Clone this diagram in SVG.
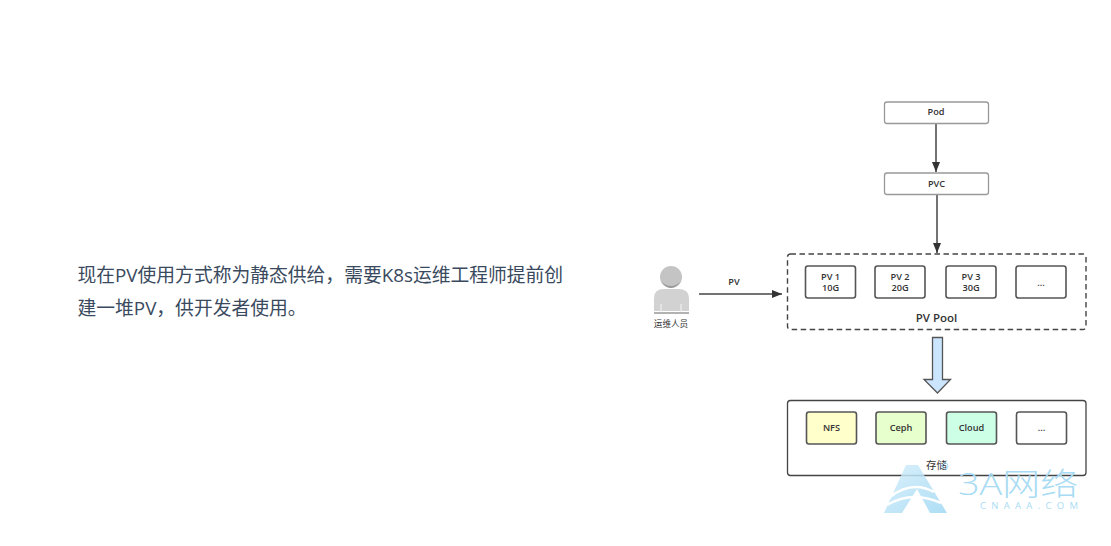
<svg xmlns="http://www.w3.org/2000/svg" width="1111" height="546" viewBox="0 0 1111 546">
<style>
text{font-family:"Open Sans","Noto Sans","Noto Sans CJK SC",sans-serif;text-anchor:middle;fill:#333}
.cjk{font-family:"Open Sans","Noto Sans CJK SC",sans-serif}
.b{fill:#fff;stroke:#555;stroke-width:1.6}
.t{fill:#fff;stroke:#999;stroke-width:1.300}
.l{font-size:9.200px;font-weight:600}
.c{fill:none;stroke:#444;stroke-width:1.500}
.body{font-size:18.800px;text-anchor:start;fill:#3a4a5e}
.wm{fill:#a9dcf4}
</style>
<defs>
<marker id="a" markerWidth="11" markerHeight="9" refX="10" refY="4" orient="auto" markerUnits="userSpaceOnUse"><path d="M0 0L10 4L0 8Z" fill="#333"/></marker>
<linearGradient id="g" x1="0" y1="0" x2="1" y2="1"><stop offset="0" stop-color="#d5eefa"/><stop offset="1" stop-color="#9fd8f3"/></linearGradient>
</defs>
<rect width="1111" height="546" fill="#fff"/>
<g id="intro">
<text class="body cjk" x="77.500" y="282">现在PV使用方式称为静态供给，需要K8s运维工程师提前创</text>
<text class="body cjk" x="77.500" y="315">建一堆PV，供开发者使用。</text>
</g>
<g id="connectors">
<path class="c" d="M936 124V172" marker-end="url(#a)"/>
<path class="c" d="M937 195V253" marker-end="url(#a)"/>
<path class="c" d="M699 294H782" marker-end="url(#a)"/>
<path d="M932.500 337.500H942.500V379.500H950.500L937.500 393L924 379.500H932.500Z" fill="#cce5ff" stroke="#555" stroke-width="1.300"/>
<text class="l" x="734" y="285">PV</text>
</g>
<g id="pod"><rect class="t" x="884.500" y="102" width="104" height="21.500" rx="2.500"/><text class="l" x="936" y="115">Pod</text></g>
<g id="pvc"><rect class="t" x="884.500" y="173" width="104" height="21.500" rx="2.500"/><text class="l" x="936.500" y="186.500">PVC</text></g>
<g id="ops">
<circle cx="671" cy="277" r="11" fill="#c4c4c4"/>
<path d="M660.500 281Q671 295 681.500 281Q671 291 660.500 281Z" fill="#999"/>
<path d="M654 311V298Q654 289 664 289H678Q689 289 689 298V311Z" fill="#d2d2d2"/>
<path d="M654 313H689" stroke="#999" stroke-width="1.500"/>
<path d="M661 304V312M681 304V312" stroke="#eee" stroke-width="1.200"/>
<text x="671" y="327" style="font-size:8.600px">运维人员</text>
</g>
<g id="pool">
<rect x="787.500" y="254" width="298.500" height="75.500" rx="3" fill="#fff" stroke="#444" stroke-width="1.400" stroke-dasharray="5.500 3.500"/>
<text x="936.500" y="322" style="font-size:11.500px;font-weight:600">PV Pool</text>
</g>
<g id="pv1"><rect class="b" x="805.500" y="266" width="50" height="32" rx="2.500"/><text class="l" x="830.500" y="280">PV 1</text><text class="l" x="830.500" y="291">10G</text></g>
<g id="pv2"><rect class="b" x="875" y="266" width="50" height="32" rx="2.500"/><text class="l" x="900" y="280">PV 2</text><text class="l" x="900" y="291">20G</text></g>
<g id="pv3"><rect class="b" x="946" y="266" width="50" height="32" rx="2.500"/><text class="l" x="971" y="280">PV 3</text><text class="l" x="971" y="291">30G</text></g>
<g id="pvm"><rect class="b" x="1016" y="266" width="50" height="32" rx="2.500"/><text class="l" x="1041" y="286">...</text></g>
<g id="storage">
<rect x="787.500" y="400.500" width="298.500" height="75" rx="3" fill="#fff" stroke="#444" stroke-width="1.300"/>
</g>
<g id="nfs"><rect class="b" x="806.500" y="412" width="50" height="32" rx="2.500" style="fill:#ffffcc"/><text class="l" x="831.500" y="431">NFS</text></g>
<g id="ceph"><rect class="b" x="876" y="412" width="50" height="32" rx="2.500" style="fill:#e6ffcc"/><text class="l" x="901" y="431">Ceph</text></g>
<g id="cloud"><rect class="b" x="946.500" y="412" width="50" height="32" rx="2.500" style="fill:#ccffe6"/><text class="l" x="971.500" y="431">Cloud</text></g>
<g id="stm"><rect class="b" x="1016.500" y="412" width="50" height="32" rx="2.500"/><text class="l" x="1041.500" y="431">...</text></g>
<text x="936.500" y="469" style="font-size:10.500px" class="cjk">存储</text>
<g id="watermark">
<path d="M884 513L906 465H918L947 513H930L917 489L902 513Z" fill="url(#g)" opacity=".85"/>
<path d="M890 497Q912 480 934 492M887 505Q912 490 941 503" fill="none" stroke="#fff" stroke-width="2.500"/>
<circle cx="945" cy="466" r="3" fill="none" stroke="#a9dcf4"/>
<text x="1018" y="495" textLength="120" lengthAdjust="spacingAndGlyphs" style="font-size:31px;font-weight:300;fill:#a9dcf4">3A网络</text>
<text x="1029" y="508.500" textLength="98" style="font-size:9.500px;fill:#a9dcf4">CNAAA.COM</text>
</g>
</svg>
